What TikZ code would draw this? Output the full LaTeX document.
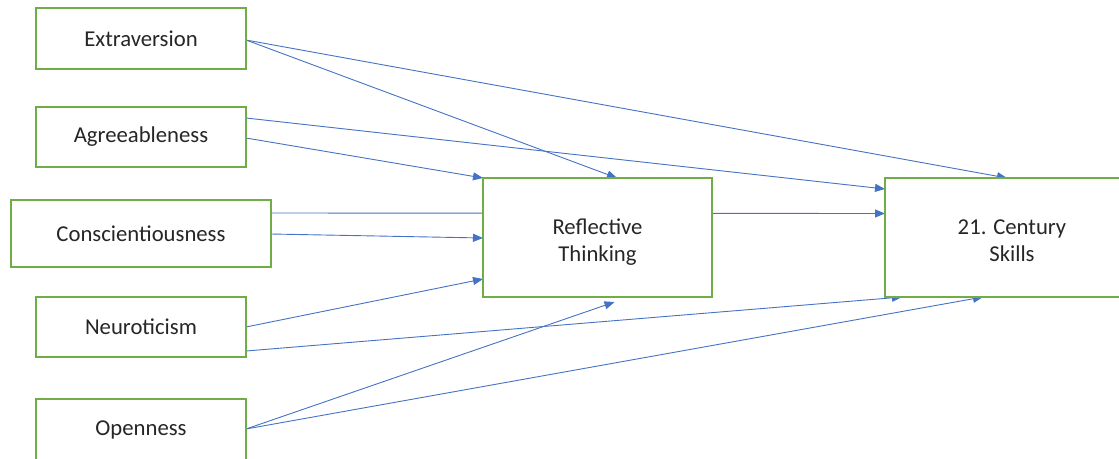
\documentclass[tikz,border=0pt]{standalone}
\usepackage{fontspec}
\setmainfont{Carlito}
\usetikzlibrary{arrows.meta,calc,backgrounds}
\definecolor{boxgreen}{HTML}{70AD47}
\definecolor{lineblue}{HTML}{4472C4}
\definecolor{txt}{HTML}{262626}
\newcommand{\twoline}[2]{\raisebox{0pt}[\dimexpr\height+11pt\relax][\depth]{\begin{tabular}{@{}c@{}}#1\\#2\end{tabular}}}
\begin{document}
\begin{tikzpicture}[x=1pt,y=-1pt,
  trait/.style={draw=boxgreen,line width=1.5pt,fill=white,minimum width=210pt,minimum height=60pt,inner sep=0pt,outer sep=0pt,text=txt,font=\fontsize{22.7}{27}\selectfont,align=center},
  conn/.style={draw=lineblue,line width=0.9pt,-{Triangle[length=10pt,width=8pt]}}]
\useasboundingbox (0,0) rectangle (1119,458);
\clip (0,0) rectangle (1119,458);
\node[trait,minimum height=61pt] (ext) at (141,38.5) {Extraversion};
\node[trait] (agr) at (141,137) {Agreeableness};
\node[trait,minimum width=260pt,minimum height=67pt] (con) at (141,233.5) {Conscientiousness};
\node[trait] (neu) at (141,327) {Neuroticism};
\node[trait,minimum height=62pt] (ope) at (141,430) {Openness};
\node[trait,minimum width=229pt,minimum height=119pt] (rt) at (597.5,237.5) {\twoline{Reflective}{Thinking}};
\node[trait,minimum width=254pt,minimum height=119pt] (cs) at (1012,237.5) {\twoline{21. Century}{Skills}};
\begin{pgfonlayer}{background}
\draw[conn] ($(ext.east)+(0,1.5)$) -- ($(rt.north)+(19.5,0)$);
\draw[conn] ($(ext.east)+(0,1.5)$) -- ($(cs.north)+(-5,0)$);
\draw[conn] ($(agr.east)+(0,-19)$) -- ($(cs.north west)+(0,11)$);
\draw[conn] ($(agr.east)+(0,1)$) -- (rt.north west);
\draw[conn] ($(con.east)+(0,-20.5)$) -- ($(cs.west)+(0,-24)$);
\draw[conn] ($(con.east)+(0,0.5)$) -- ($(rt.west)+(0,0.5)$);
\draw[conn] (neu.east) -- ($(rt.south west)+(0,-18)$);
\draw[conn] ($(neu.east)+(0,24)$) -- ($(cs.south west)+(17,0)$);
\draw[conn] ($(ope.east)+(0,-1)$) -- ($(rt.south)+(17,5)$);
\draw[conn] ($(ope.east)+(0,-1)$) -- ($(cs.south)+(-29,0)$);
\end{pgfonlayer}
\end{tikzpicture}
\end{document}
